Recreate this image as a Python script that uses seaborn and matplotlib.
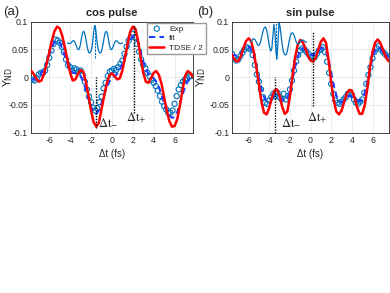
import numpy as np
import matplotlib
matplotlib.use("Agg")
import matplotlib.pyplot as plt
import seaborn as sns

# ---- data ----
# dense time grid for the fit / TDSE curves (fs)
t_curve = np.linspace(-7.75, 7.75, 63)
# time grid for the experimental points (fs)
t_exp = np.linspace(-7.6, 7.6, 77)

# (a) cos pulse
tdse_cos = [0.012, 0.006, -0.002, -0.008, -0.006, 0.006, 0.024, 0.045, 0.066, 0.083,
            0.091, 0.088, 0.074, 0.053, 0.030, 0.008, -0.006, -0.004, 0.006, 0.013,
            0.010, -0.008, -0.033, -0.060, -0.081, -0.089, -0.082, -0.058, -0.034, -0.012,
            0.003, 0.007, 0.002, -0.004, -0.002, 0.012, 0.035, 0.060, 0.082, 0.091,
            0.087, 0.066, 0.036, 0.008, -0.008, -0.010, -0.002, 0.008, 0.011, 0.004,
            -0.012, -0.036, -0.060, -0.079, -0.089, -0.088, -0.076, -0.052, -0.024, 0.002,
            0.011, 0.008, 0.000]
fit_cos = [-0.004, -0.004, -0.002, 0.002, 0.008, 0.016, 0.027, 0.040, 0.054, 0.063,
           0.066, 0.062, 0.052, 0.038, 0.024, 0.013, 0.008, 0.007, 0.006, 0.002,
           -0.008, -0.022, -0.038, -0.053, -0.063, -0.066, -0.060, -0.047, -0.032, -0.018,
           -0.008, -0.002, 0.002, 0.006, 0.013, 0.025, 0.040, 0.055, 0.068, 0.074,
           0.072, 0.062, 0.045, 0.028, 0.014, 0.006, 0.002, -0.002, -0.008, -0.018,
           -0.032, -0.047, -0.060, -0.069, -0.073, -0.072, -0.063, -0.048, -0.032, -0.018,
           -0.008, -0.002, 0.000]
exp_cos = [-0.004, -0.006, -0.002, 0.005, 0.008, 0.008, 0.012, 0.022, 0.035, 0.048,
           0.060, 0.068, 0.066, 0.062, 0.055, 0.045, 0.032, 0.022, 0.018, 0.012,
           0.016, 0.014, 0.010, 0.012, 0.004, -0.008, -0.022, -0.035, -0.045, -0.055,
           -0.060, -0.056, -0.045, -0.035, -0.020, -0.010, 0.002, 0.010, 0.012, 0.015,
           0.013, 0.018, 0.024, 0.030, 0.042, 0.055, 0.066, 0.072, 0.078, 0.072,
           0.060, 0.046, 0.032, 0.022, 0.016, 0.008, 0.002, -0.005, -0.010, -0.016,
           -0.024, -0.034, -0.044, -0.052, -0.058, -0.064, -0.064, -0.060, -0.048, -0.034,
           -0.022, -0.014, -0.008, -0.004, -0.002, 0.002, 0.002]

# (b) sin pulse
tdse_sin = [0.045, 0.036, 0.029, 0.029, 0.038, 0.052, 0.065, 0.070, 0.065, 0.046,
            0.018, -0.013, -0.045, -0.064, -0.067, -0.055, -0.037, -0.024, -0.022, -0.033,
            -0.053, -0.066, -0.062, -0.035, 0.002, 0.035, 0.058, 0.067, 0.063, 0.052,
            0.038, 0.030, 0.028, 0.035, 0.050, 0.064, 0.070, 0.062, 0.030, -0.010,
            -0.042, -0.062, -0.067, -0.060, -0.045, -0.030, -0.023, -0.024, -0.036, -0.054,
            -0.066, -0.066, -0.050, -0.020, 0.018, 0.045, 0.062, 0.068, 0.062, 0.050,
            0.038, 0.030, 0.027]
fit_sin = [0.040, 0.040, 0.039, 0.040, 0.044, 0.050, 0.054, 0.055, 0.050, 0.038,
           0.020, -0.002, -0.022, -0.036, -0.042, -0.042, -0.037, -0.033, -0.032, -0.035,
           -0.040, -0.042, -0.038, -0.024, -0.004, 0.018, 0.036, 0.048, 0.052, 0.050,
           0.045, 0.041, 0.040, 0.042, 0.047, 0.052, 0.053, 0.046, 0.030, 0.008,
           -0.015, -0.033, -0.043, -0.045, -0.042, -0.037, -0.034, -0.034, -0.037, -0.041,
           -0.043, -0.040, -0.028, -0.008, 0.014, 0.034, 0.048, 0.054, 0.052, 0.046,
           0.041, 0.038, 0.036]
exp_sin = [0.042, 0.036, 0.030, 0.032, 0.038, 0.044, 0.050, 0.054, 0.052, 0.050,
           0.040, 0.022, 0.005, -0.008, -0.022, -0.036, -0.046, -0.048, -0.042, -0.036,
           -0.030, -0.034, -0.028, -0.036, -0.040, -0.030, -0.040, -0.034, -0.022, -0.006,
           0.012, 0.028, 0.040, 0.048, 0.052, 0.050, 0.046, 0.042, 0.036, 0.038,
           0.036, 0.042, 0.048, 0.050, 0.054, 0.045, 0.028, 0.008, -0.012, -0.030,
           -0.042, -0.046, -0.048, -0.044, -0.040, -0.036, -0.030, -0.028, -0.032, -0.040,
           -0.046, -0.048, -0.044, -0.040, -0.028, -0.012, 0.004, 0.018, 0.034, 0.046,
           0.052, 0.056, 0.050, 0.046, 0.042, 0.038, 0.034]

# pulse sketches drawn as insets (time relative to pulse centre, fs)
pulse_t_cos = np.linspace(-2.7, 2.7, 55)
pulse_cos = [0.000, 0.000, -0.001, -0.001, 0.000, 0.002, 0.004, 0.004, 0.001, -0.004,
             -0.009, -0.012, -0.011, -0.004, 0.007, 0.017, 0.021, 0.019, 0.011, 0.000,
             -0.010, -0.017, -0.018, -0.016, -0.010, 0.003, 0.022, 0.033, 0.022, 0.003,
             -0.010, -0.016, -0.018, -0.017, -0.010, 0.000, 0.011, 0.019, 0.021, 0.017,
             0.007, -0.004, -0.011, -0.012, -0.009, -0.004, 0.001, 0.004, 0.004, 0.002,
             0.000, -0.001, -0.001, 0.000, 0.000]
pulse_t_sin = np.linspace(-2.5, 3.0, 56)
pulse_sin = [0.000, 0.002, 0.004, 0.006, 0.006, 0.004, 0.000, -0.004, -0.006, -0.005,
             0.000, 0.008, 0.016, 0.023, 0.027, 0.027, 0.022, 0.012, 0.000, -0.010,
             -0.016, -0.012, 0.010, 0.032, 0.020, -0.018, -0.030, 0.000, 0.034, 0.028,
             0.012, -0.004, -0.015, -0.021, -0.023, -0.022, -0.016, -0.006, 0.004, 0.012,
             0.016, 0.017, 0.015, 0.010, 0.004, -0.001, -0.003, -0.003, -0.001, 0.002,
             0.004, 0.004, 0.003, 0.001, 0.000, 0.000]

# delay markers: (position, y bottom, y top)
dt_cos = [(-1.56, -0.092, 0.001), (2.1, -0.065, 0.094)]
dt_sin = [(-3.4, -0.1, 0.0), (0.26, -0.052, 0.081)]

# ---- style ----
sns.set_style("whitegrid")
plt.rcParams['font.family'] = ['Liberation Sans', 'DejaVu Sans']
plt.rcParams['axes.unicode_minus'] = False

blue = '#0072BD'
fit_blue = '#1f3fff'
red = '#ff0000'

fig = plt.figure(figsize=(3.9, 2.93), dpi=100)
ax_a = fig.add_axes([0.0795, 0.547, 0.415, 0.379])
ax_b = fig.add_axes([0.595, 0.547, 0.4026, 0.379])


def draw_panel(ax, exp, fit, tdse, xlim, title, letter, ylab_x, letter_x, legend=False):
    sns.scatterplot(x=t_exp, y=exp, ax=ax, marker='o', s=14, facecolors='none',
                    edgecolor=blue, linewidth=0.8, label='Exp', zorder=3)
    sns.lineplot(x=t_curve, y=fit, ax=ax, color=fit_blue, linestyle=(0, (3, 2)),
                 linewidth=1.5, label='fit', zorder=4)
    sns.lineplot(x=t_curve, y=tdse, ax=ax, color=red, linewidth=1.8,
                 label='TDSE / 2', zorder=5)
    ax.set_xlim(*xlim)
    ax.set_ylim(-0.1, 0.1)
    ax.set_xticks([-6, -4, -2, 0, 2, 4, 6])
    ax.set_yticks([-0.1, -0.05, 0, 0.05, 0.1])
    ax.set_yticklabels(['-0.1', '-0.05', '0', '0.05', '0.1'])
    ax.tick_params(direction='in', length=2, labelsize=6.3, pad=2, color='#262626')
    ax.grid(True, color='#e3e3e3', linewidth=0.5)
    for sp in ax.spines.values():
        sp.set_visible(True)
        sp.set_color('#262626')
        sp.set_linewidth(0.6)
    ax.set_xlabel('\u0394t (fs)', fontsize=7, labelpad=3)
    ax.set_ylabel('$\\mathrm{Y_{ND}}$', fontsize=8)
    ax.yaxis.set_label_coords(ylab_x, 0.5)
    ax.set_title(title, fontsize=8, fontweight='bold', pad=4)
    ax.text(letter_x, 1.087, letter, transform=ax.transAxes, fontsize=9.5,
            va='center', ha='left')
    if legend:
        ax.legend(loc='upper left', bbox_to_anchor=(0.71, 1.0), fontsize=6,
                  frameon=True, fancybox=False, edgecolor='#999999', framealpha=1,
                  handlelength=1.8, handletextpad=0.6, borderpad=0.3,
                  labelspacing=0.2, borderaxespad=0.1)
    else:
        ax.get_legend().remove()


draw_panel(ax_a, exp_cos, fit_cos, tdse_cos, (-7.75, 7.75), 'cos pulse', '(a)',
           -0.1, -0.175, legend=True)
draw_panel(ax_b, exp_sin, fit_sin, tdse_sin, (-7.6, 7.6), 'sin pulse', '(b)',
           -0.15, -0.22)

# dotted delay markers and labels
for ax, marks, offs in [(ax_a, dt_cos, [(0.25, -0.083), (0.25, -0.072)]),
                        (ax_b, dt_sin, [(0.5, -0.083), (0.35, -0.073)])]:
    for x, y0, y1 in marks:
        ax.vlines(x, y0, y1, colors='black', linestyles=(0, (1, 1)), linewidth=1, zorder=6)
    (xm, _, _), (xp, _, _) = marks
    ax.text(xm + offs[0][0], offs[0][1], '$\\Delta\\mathrm{t}_{-}$', fontsize=9,
            math_fontfamily='stix', va='center', ha='left', zorder=7)
    ax.text(xp + offs[1][0], offs[1][1], '$\\Delta\\mathrm{t}_{+}$', fontsize=9,
            math_fontfamily='stix', va='center', ha='center', zorder=7)

# pulse sketches
in_a = ax_a.inset_axes([0.2206, 0.643, 0.348, 0.33])
in_b = ax_b.inset_axes([0.115, 0.64, 0.362, 0.35])
for ax_in, t, p, yl, (lo, hi) in [(in_a, pulse_t_cos, pulse_cos, 0.033, (0.09, 0.995)),
                                  (in_b, pulse_t_sin, pulse_sin, 0.035, (0.08, 0.985))]:
    sns.lineplot(x=t, y=p, ax=ax_in, color=blue, linewidth=0.9)
    ax_in.axvline(0, ymin=lo, ymax=hi, color=blue, linestyle=(0, (2, 1)), linewidth=0.8)
    ax_in.set_xlim(t[0], t[-1])
    ax_in.set_ylim(-yl, yl)
    ax_in.axis('off')
    ax_in.patch.set_alpha(0)

fig.savefig('out.png', dpi=100)
